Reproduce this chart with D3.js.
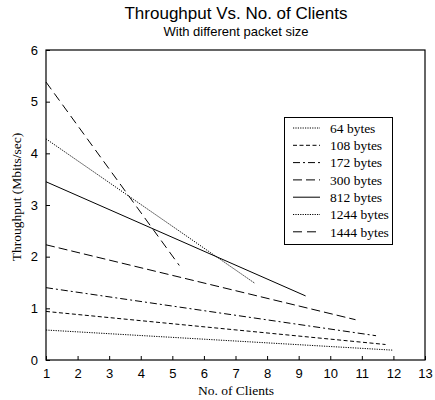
<!DOCTYPE html>
<html><head><meta charset="utf-8">
<script src="https://cdn.jsdelivr.net/npm/d3@7"></script>
<style>body{margin:0;background:#fff}</style>
</head><body>
<svg id="c" width="435" height="400"></svg>
<script>
const seriesNames = ["64 bytes","108 bytes","172 bytes","300 bytes","812 bytes","1244 bytes","1444 bytes"];
const series64   = [[1,0.58],[12,0.19]];
const series108  = [[1,0.94],[11.75,0.30]];
const series172  = [[1,1.40],[11.45,0.47]];
const series300  = [[1,2.23],[10.8,0.78]];
const series812  = [[1,3.45],[9.22,1.24]];
const series1244 = [[1,4.28],[7.6,1.49]];
const series1444 = [[1,5.38],[5.22,1.83]];
const allSeries = [series64,series108,series172,series300,series812,series1244,series1444];
const dashes = ["1.2,1.2","4,2.5","7,3,2,3","9,4","none","1.2,1.2","9,5"];
const xTicks = [1,2,3,4,5,6,7,8,9,10,11,12,13];
const yTicks = [0,1,2,3,4,5,6];

const svg = d3.select("#c");
const L=46, R=425, T=50, B=360;
const x = d3.scaleLinear().domain([1,13]).range([L,R]);
const y = d3.scaleLinear().domain([0,6]).range([B,T]);

svg.append("rect").attr("x",L).attr("y",T).attr("width",R-L).attr("height",B-T)
  .attr("fill","none").attr("stroke","#000").attr("stroke-width",1.2);

const xa = svg.append("g").attr("transform",`translate(0,${B})`)
  .call(d3.axisBottom(x).tickValues(xTicks).tickSize(-4).tickPadding(9).tickFormat(d3.format("d")));
const ya = svg.append("g").attr("transform",`translate(${L},0)`)
  .call(d3.axisLeft(y).tickValues(yTicks).tickSize(-4).tickPadding(8).tickFormat(d3.format("d")));
[xa,ya].forEach(a=>{
  a.select(".domain").remove();
  a.selectAll("text").attr("font-family","Liberation Sans, Arial, sans-serif").attr("font-size",13).attr("fill","#000");
  a.selectAll("line").attr("stroke","#000");
});
xa.selectAll("text").attr("dy","0.71em");

const line = d3.line().x(d=>x(d[0])).y(d=>y(d[1]));
allSeries.forEach((s,i)=>{
  svg.append("path").attr("d",line(s)).attr("fill","none").attr("stroke","#000")
    .attr("stroke-width",1).attr("stroke-dasharray",dashes[i]);
});

// legend
const lg = svg.append("g");
lg.append("rect").attr("x",284.5).attr("y",117.5).attr("width",108).attr("height",127)
  .attr("fill","#fff").attr("stroke","#000").attr("stroke-width",1);
seriesNames.forEach((n,i)=>{
  const yy = 128 + i*17.3;
  lg.append("line").attr("x1",293).attr("x2",320).attr("y1",yy).attr("y2",yy)
    .attr("stroke","#000").attr("stroke-width",1).attr("stroke-dasharray",dashes[i]);
  lg.append("text").attr("x",330).attr("y",yy).attr("dy","0.35em")
    .attr("font-family","Liberation Serif, Times New Roman, serif").attr("font-size",13.5).text(n);
});

svg.append("text").attr("x",236).attr("y",19).attr("text-anchor","middle")
  .attr("font-family","Liberation Sans, Arial, sans-serif").attr("font-size",17).text("Throughput Vs. No. of Clients");
svg.append("text").attr("x",236).attr("y",36).attr("text-anchor","middle")
  .attr("font-family","Liberation Sans, Arial, sans-serif").attr("font-size",13).text("With different packet size");
svg.append("text").attr("x",236).attr("y",395).attr("text-anchor","middle")
  .attr("font-family","Liberation Serif, Times New Roman, serif").attr("font-size",13.5).text("No. of Clients");
svg.append("text").attr("transform","translate(21,197) rotate(-90)").attr("text-anchor","middle")
  .attr("font-family","Liberation Serif, Times New Roman, serif").attr("font-size",13.5).text("Throughput (Mbits/sec)");
</script>
</body></html>
